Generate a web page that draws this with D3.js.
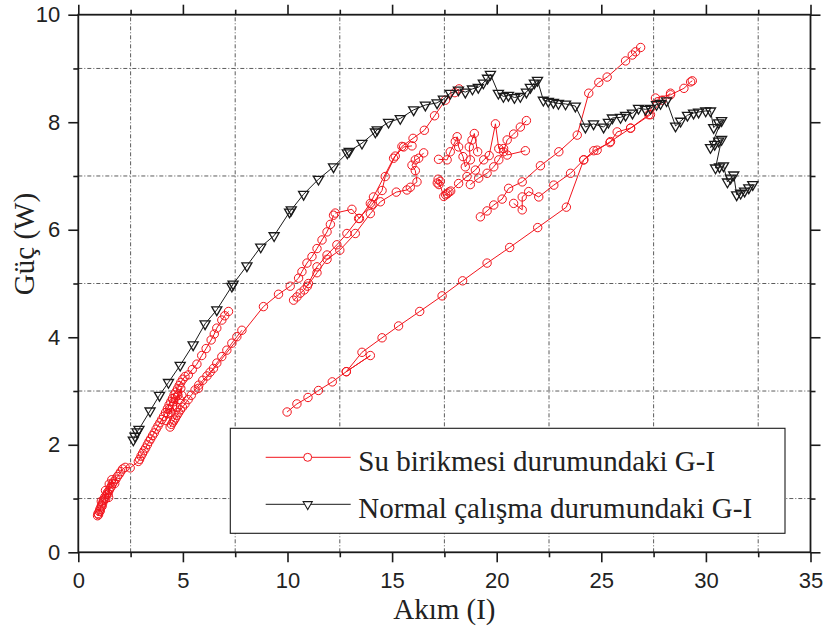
<!DOCTYPE html>
<html>
<head>
<meta charset="utf-8">
<script src="https://cdn.jsdelivr.net/npm/d3@7"></script>
<style>
html, body { margin: 0; padding: 0; background: #fff; }
svg { display: block; }
</style>
</head>
<body>
<svg id="chart" width="827" height="628"></svg>
<script>
// Normal çalışma durumundaki G-I  [Akım, Güç]
var normalData = [
    [2.63,2.09],[2.71,2.16],[2.81,2.24],[2.90,2.29],[3.43,2.63],[3.88,2.92],[4.31,3.16],[4.87,3.48],
    [5.49,3.86],[6.06,4.25],[6.62,4.51],[7.34,4.95],[7.40,4.99],[8.06,5.33],[8.72,5.68],[9.36,5.89],
    [10.10,6.33],[10.18,6.37],[10.77,6.66],[11.48,6.94],[12.20,7.17],[12.86,7.43],[12.95,7.46],[13.56,7.61],
    [14.20,7.82],[14.29,7.86],[14.83,8.00],[15.39,8.07],[16.03,8.23],[16.59,8.32],[17.15,8.36],[17.45,8.43],
    [17.78,8.54],[18.17,8.60],[18.50,8.56],[18.84,8.62],[19.12,8.65],[19.36,8.73],[19.56,8.82],[19.70,8.89],
    [20.08,8.54],[20.32,8.48],[20.56,8.50],[20.85,8.46],[21.13,8.48],[21.42,8.56],[21.61,8.65],[21.80,8.73],[21.95,8.78],
    [22.23,8.41],[22.47,8.39],[22.71,8.37],[22.95,8.35],[23.29,8.34],[23.76,8.30],
    [24.24,7.91],[24.63,7.97],[25.11,7.91],[25.34,8.00],[25.53,8.08],[25.92,8.09],[26.16,8.13],[26.49,8.17],
    [26.78,8.26],[27.11,8.24],[27.35,8.26],[27.64,8.33],[27.83,8.35],[28.12,8.40],
    [28.55,7.93],[28.79,8.02],[29.12,8.13],[29.41,8.17],[29.65,8.19],[29.99,8.21],[30.22,8.21],
    [30.37,7.90],[30.61,7.99],[30.75,8.03],
    [30.22,7.53],[30.42,7.59],[30.61,7.65],[30.75,7.68],
    [30.46,7.15],[30.65,7.17],[30.84,7.19],
    [31.03,6.89],[31.18,6.96],[31.33,7.02],
    [31.47,6.65],[31.66,6.68],[31.85,6.72],[32.05,6.78],[32.24,6.84]
];

// Su birikmesi durumundaki G-I, split into the visible streaks
var suTrackA = [
    [0.92,0.68],[0.94,0.72],[0.97,0.70],[1.00,0.76],[1.03,0.80],[1.05,0.77],[1.08,0.84],[1.11,0.88],
    [1.14,0.86],[1.17,0.92],[1.20,0.96],[1.10,0.95],[1.24,0.99],[1.27,1.03],[1.31,1.00],[1.30,1.15],
    [1.35,1.07],[1.39,1.11],[1.45,1.02],[1.43,1.09],[1.48,1.27],[1.47,1.15],[1.52,1.19],[1.57,1.22],
    [1.60,1.35],[1.62,1.27],[1.68,1.31],[1.74,1.28],[1.80,1.36],[1.87,1.41],[1.95,1.45],[2.03,1.50],
    [2.12,1.55],[2.24,1.58],[2.48,1.57],
    [2.87,1.69],[2.93,1.73],[3.00,1.79],[3.07,1.84],[3.14,1.89],[3.22,1.94],[3.30,2.00],[3.38,2.06],
    [3.46,2.11],[3.55,2.17],[3.63,2.22],[3.72,2.29],[3.81,2.35],[3.90,2.41],[3.99,2.47],[4.08,2.53],
    [4.17,2.60],[4.26,2.67],[4.34,2.74],[4.42,2.80],[4.50,2.86],[4.58,2.93],[4.66,2.98],[4.74,3.04],
    [4.82,3.10],[4.90,3.16],[5.00,3.22],[5.10,3.27],[5.26,3.30],[5.45,3.40],[5.67,3.50],[5.90,3.66],
    [6.11,3.79],[6.35,3.95],[6.50,4.06],[6.62,4.17],[6.86,4.32],[7.00,4.40],[7.18,4.48]
];
var suTrackB = [
    [4.20,2.45],[4.28,2.58],[4.36,2.66],[4.44,2.60],[4.50,2.72],[4.56,2.80],[4.64,2.88],[4.70,2.70],
    [4.76,2.92],[4.84,2.84],[4.90,3.05],[4.95,2.92]
];
var suTrackC = [
    [4.39,2.33],[4.45,2.38],[4.52,2.42],[4.58,2.46],[4.65,2.50],[4.72,2.55],[4.80,2.60],[4.88,2.65],
    [4.98,2.70],[5.10,2.76],[5.25,2.84],[5.40,2.92],[5.58,3.02],[5.76,3.11],[5.95,3.20],[6.15,3.28],
    [6.30,3.35],[6.46,3.42],[6.62,3.52],[6.86,3.64],[7.10,3.76],[7.34,3.89],[7.58,4.01],[7.82,4.13]
];
var suTrackD = [
    [5.74,3.05],[8.85,4.57],[9.57,4.80],[10.13,4.95],[10.53,5.10],[10.69,5.22],[10.93,5.38],[11.17,5.50],
    [11.41,5.65],[11.65,5.81],[11.89,5.96],[12.05,6.10],[12.20,6.27]
];
var suTrackE = [
    [10.29,4.69],[10.45,4.75],[10.61,4.82],[10.80,4.88],[11.00,5.00],[11.41,5.31],[11.89,5.53],[12.36,5.72],
    [12.84,5.93],[13.40,6.21],[14.04,6.47],[14.52,6.73],[14.67,6.99],[15.15,7.37],[15.55,7.54],[15.95,7.56]
];
var suTrackF = [
    [10.95,4.95],[11.41,5.20],[11.89,5.45],[12.50,5.62],[13.24,5.93],[13.96,6.30],[14.44,6.52],[15.20,6.70],
    [15.71,6.74],[15.87,6.79],[16.19,6.89],[16.11,7.10],[15.95,7.20],[16.11,7.30],[16.27,7.33],[16.51,7.43]
];
var suTrackG = [
    [12.28,6.31],[13.08,6.38],[13.44,6.21],[13.96,6.49],[14.11,6.61],[15.07,7.33],[15.47,7.55],[16.00,7.70],
    [16.54,7.85],[17.03,8.12],[17.55,8.41],[18.00,8.55],[18.20,8.62]
];
var suTrackH = [
    [17.16,6.87],[17.24,6.84],[17.30,6.90],[17.20,6.94],[17.47,6.62],[17.56,6.65],[17.64,6.67],[17.72,6.70],
    [17.80,6.72],[18.18,6.86],[18.58,6.99],[18.98,7.11],[19.38,7.30],[19.64,7.38],[19.94,7.97],[20.10,7.51],
    [20.33,7.51],[20.50,7.39],[21.37,7.47]
];
var suTrackI = [
    [18.74,6.84],[19.14,6.96],[19.54,7.05],[19.86,7.17],[20.10,7.30],[20.33,7.45],[20.50,7.67],[20.81,7.78],
    [21.13,7.91],[21.42,8.03]
];
var suTrackJ = [
    [17.22,7.31],[17.63,7.30],[17.78,7.45],[18.02,7.64],[18.11,7.73],[18.18,7.54],[18.39,7.36],[18.50,7.17],
    [18.74,7.30],[18.69,7.54],[18.82,7.67],[18.93,7.79],[19.09,7.45]
];
var suTrackK = [
    [19.22,6.24],[19.54,6.35],[19.86,6.46],[20.26,6.57],[20.57,6.77],[21.22,6.89],[22.09,7.19],[22.97,7.45],
    [23.85,7.76],[24.40,8.54],[24.88,8.74],[25.28,8.84],[26.16,9.14],[26.48,9.25],[26.64,9.31],[26.88,9.39]
];
var suTrackL = [
    [20.81,6.49],[21.22,6.37],[21.22,6.61],[21.53,6.71],[22.01,6.61],[22.73,6.83],[23.53,7.05],[24.16,7.30],
    [24.80,7.48],[25.44,7.64],[26.40,7.89],[27.35,8.14],[27.91,8.41],[28.31,8.54]
];
var suTrackM = [
    [9.98,2.61],[10.45,2.76],[10.98,2.88],[11.48,3.01],[12.14,3.17],[12.81,3.36],[13.96,3.66],[12.81,3.36],
    [13.56,3.72],[14.52,3.99],[15.31,4.21],[16.32,4.48],[17.39,4.77],[18.37,5.05],[19.54,5.38],[20.62,5.67],
    [21.96,6.04],[23.33,6.42],[24.16,7.30],[24.64,7.47],[25.41,7.62],[25.76,7.82],[26.40,7.89],[27.27,8.14],
    [27.59,8.45],[28.31,8.51],[28.95,8.63],[29.27,8.75],[29.35,8.77]
];
var suTracks = [suTrackA, suTrackB, suTrackC, suTrackD, suTrackE, suTrackF, suTrackG,
    suTrackH, suTrackI, suTrackJ, suTrackK, suTrackL, suTrackM];

var xMajor = [0, 5, 10, 15, 20, 25, 30, 35];
var xMinor = [2.5, 7.5, 12.5, 17.5, 22.5, 27.5, 32.5];
var yMajor = [0, 2, 4, 6, 8, 10];
var yMinor = [1, 3, 5, 7, 9];
var legendLabels = ["Su birikmesi durumundaki G-I", "Normal çalışma durumundaki G-I"];

var RED = "#f2141c";
var DARK = "#1a1a1a";

var svg = d3.select("#chart");
var x = d3.scaleLinear().domain([0, 35]).range([78.3, 810.5]);
var y = d3.scaleLinear().domain([0, 10]).range([552.3, 14.7]);

// grid at minor ticks
var grid = svg.append("g").attr("stroke", "#4a4a4a").attr("stroke-width", 0.9)
    .attr("stroke-dasharray", "4,2,1,2").attr("fill", "none");
grid.selectAll("line.v").data(xMinor).enter().append("line")
    .attr("x1", d => x(d)).attr("x2", d => x(d)).attr("y1", y(0)).attr("y2", y(10));
grid.selectAll("line.h").data(yMinor).enter().append("line")
    .attr("x1", x(0)).attr("x2", x(35)).attr("y1", d => y(d)).attr("y2", d => y(d));

// axes
function styleAxis (g) {
    g.select(".domain").remove();
    g.selectAll(".tick line").attr("stroke", DARK).attr("stroke-width", 1.6);
    g.selectAll(".tick text").attr("fill", "#222")
        .style("font-family", "'Liberation Sans', Arial, sans-serif").style("font-size", "22px");
}
svg.append("g").attr("transform", "translate(0," + y(0) + ")")
    .call(d3.axisBottom(x).tickValues(xMajor).tickSize(10).tickPadding(10).tickSizeOuter(0)).call(styleAxis);
svg.append("g").attr("transform", "translate(0," + y(0) + ")")
    .call(d3.axisBottom(x).tickValues(xMinor).tickSize(5).tickFormat("").tickSizeOuter(0)).call(styleAxis);
svg.append("g").attr("transform", "translate(0," + y(10) + ")")
    .call(d3.axisTop(x).tickValues(xMajor).tickSize(10).tickFormat("").tickSizeOuter(0)).call(styleAxis);
svg.append("g").attr("transform", "translate(0," + y(10) + ")")
    .call(d3.axisTop(x).tickValues(xMinor).tickSize(5).tickFormat("").tickSizeOuter(0)).call(styleAxis);
svg.append("g").attr("transform", "translate(" + x(0) + ",0)")
    .call(d3.axisLeft(y).tickValues(yMajor).tickSize(10).tickPadding(8).tickSizeOuter(0)).call(styleAxis);
svg.append("g").attr("transform", "translate(" + x(0) + ",0)")
    .call(d3.axisLeft(y).tickValues(yMinor).tickSize(5).tickFormat("").tickSizeOuter(0)).call(styleAxis);
svg.append("g").attr("transform", "translate(" + x(35) + ",0)")
    .call(d3.axisRight(y).tickValues(yMajor).tickSize(10).tickFormat("").tickSizeOuter(0)).call(styleAxis);
svg.append("g").attr("transform", "translate(" + x(35) + ",0)")
    .call(d3.axisRight(y).tickValues(yMinor).tickSize(5).tickFormat("").tickSizeOuter(0)).call(styleAxis);

svg.append("rect").attr("x", x(0)).attr("y", y(10))
    .attr("width", x(35) - x(0)).attr("height", y(0) - y(10))
    .attr("fill", "none").attr("stroke", DARK).attr("stroke-width", 1.8);

// axis titles
svg.append("text").attr("x", (x(0) + x(35)) / 2).attr("y", 619).attr("text-anchor", "middle")
    .style("font-family", "'Liberation Serif', 'Times New Roman', serif").style("font-size", "29px")
    .attr("fill", "#222").text("Akım (I)");
svg.append("text").attr("transform", "translate(34," + 244 + ") rotate(-90)").attr("text-anchor", "middle")
    .style("font-family", "'Liberation Serif', 'Times New Roman', serif").style("font-size", "29px")
    .attr("fill", "#222").text("Güç (W)");

var line = d3.line().x(d => x(d[0])).y(d => y(d[1]));
var tri = d3.symbol().type(d3.symbolTriangle).size(44);

// red series
var plot = svg.append("g");
plot.selectAll("path.su").data(suTracks).enter().append("path")
    .attr("d", line).attr("fill", "none").attr("stroke", RED).attr("stroke-width", 1);
var suPoints = [].concat.apply([], suTracks);
plot.selectAll("circle.su").data(suPoints).enter().append("circle")
    .attr("cx", d => x(d[0])).attr("cy", d => y(d[1])).attr("r", 4.2)
    .attr("fill", "none").attr("stroke", RED).attr("stroke-width", 1);

// black series
plot.append("path").datum(normalData).attr("d", line)
    .attr("fill", "none").attr("stroke", DARK).attr("stroke-width", 1);
plot.selectAll("path.tri").data(normalData).enter().append("path")
    .attr("d", tri).attr("transform", d => "translate(" + x(d[0]) + "," + y(d[1]) + ") rotate(180)")
    .attr("fill", "none").attr("stroke", DARK).attr("stroke-width", 1.3);

// legend
var lg = svg.append("g");
lg.append("rect").attr("x", 230.3).attr("y", 428.3).attr("width", 554.7).attr("height", 105)
    .attr("fill", "#fff").attr("stroke", DARK).attr("stroke-width", 1.1);
var legendRows = [
    {label: legendLabels[0], color: RED, y: 457.3, marker: "circle"},
    {label: legendLabels[1], color: DARK, y: 504.3, marker: "tri"}
];
legendRows.forEach(function (row) {
    lg.append("line").attr("x1", 265.7).attr("x2", 350.7).attr("y1", row.y).attr("y2", row.y)
        .attr("stroke", row.color).attr("stroke-width", 1);
    if (row.marker === "circle") {
        lg.append("circle").attr("cx", 307.7).attr("cy", row.y).attr("r", 4)
            .attr("fill", "#fff").attr("stroke", row.color).attr("stroke-width", 1);
    } else {
        lg.append("path").attr("d", d3.symbol().type(d3.symbolTriangle).size(36))
            .attr("transform", "translate(307.7," + row.y + ") rotate(180)")
            .attr("fill", "#fff").attr("stroke", row.color).attr("stroke-width", 1.1);
    }
    lg.append("text").attr("x", 358.3).attr("y", row.y + 14)
        .style("font-family", "'Liberation Serif', 'Times New Roman', serif").style("font-size", "29px")
        .attr("fill", "#222").text(row.label);
});
</script>
</body>
</html>
